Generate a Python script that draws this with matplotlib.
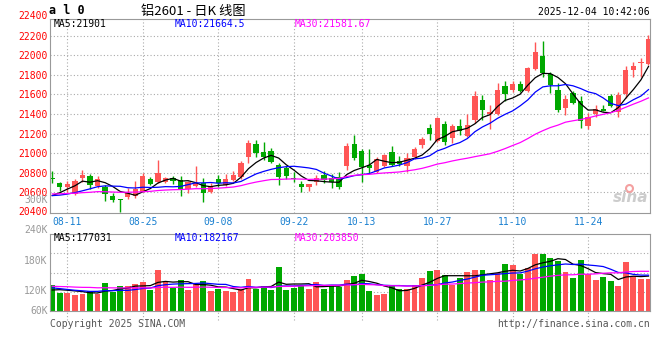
import matplotlib
matplotlib.use('Agg')
import matplotlib.pyplot as plt
import numpy as np
import pandas as pd

# trading days 2025-08-07 .. 2025-12-04 (national day holiday removed)
days = pd.bdate_range('2025-08-07', '2025-12-04')
days = days[(days < '2025-10-01') | (days > '2025-10-08')]
dates = list(days.strftime('%m-%d'))

tick_labels = ['08-11', '08-25', '09-08', '09-22', '10-13', '10-27', '11-10', '11-24']

open_ = [20750, 20700, 20660, 20580, 20750, 20770, 20668, 20660, 20567, 20528,
         20556, 20565, 20607, 20735, 20703, 20710, 20744, 20727, 20640, 20666,
         20693, 20600, 20735, 20675, 20727, 20760, 20958, 21097, 21015, 21023,
         20880, 20846, 20745, 20686, 20652, 20710, 20778, 20744, 20754, 20873,
         21097, 21026, 20880, 20811, 20870, 21013, 20920, 20870, 20965, 21085,
         21255, 21125, 21300, 21160, 21278, 21180, 21340, 21543, 21400, 21404,
         21687, 21643, 21707, 21637, 21860, 21995, 21808, 21646, 21460, 21612,
         21530, 21280, 21400, 21452, 21585, 21425, 21600, 21850, 21918, 21908]
high = [20820, 20710, 20720, 20740, 20830, 20790, 20770, 20680, 20590, 20530,
        20648, 20717, 20795, 20760, 20930, 20760, 20765, 20768, 20720, 20873,
        20750, 20700, 20780, 20790, 20815, 20920, 21135, 21135, 21110, 21050,
        20903, 20870, 20810, 20720, 20690, 20780, 20820, 20790, 20810, 21100,
        21186, 21043, 21043, 20960, 20990, 21074, 20970, 21000, 21060, 21170,
        21300, 21370, 21330, 21300, 21350, 21400, 21635, 21590, 21492, 21720,
        21740, 21740, 21740, 21880, 22137, 22148, 21830, 21715, 21595, 21640,
        21580, 21410, 21490, 21490, 21600, 21620, 21890, 21930, 21970, 22207]
low = [20695, 20610, 20600, 20570, 20710, 20635, 20650, 20510, 20505, 20405,
       20530, 20540, 20600, 20680, 20700, 20700, 20690, 20566, 20590, 20660,
       20505, 20590, 20655, 20670, 20720, 20740, 20900, 20965, 20930, 20900,
       20676, 20740, 20710, 20600, 20610, 20680, 20700, 20650, 20640, 20830,
       20930, 20710, 20800, 20800, 20860, 20870, 20870, 20810, 20940, 21050,
       21130, 21110, 21085, 21100, 21190, 21170, 21305, 21340, 21247, 21390,
       21535, 21630, 21620, 21630, 21850, 21780, 21615, 21424, 21390, 21500,
       21255, 21250, 21370, 21430, 21470, 21370, 21560, 21780, 21780, 21900]
close = [20735, 20660, 20685, 20718, 20778, 20680, 20737, 20585, 20525, 20522,
         20590, 20632, 20765, 20690, 20800, 20744, 20720, 20625, 20710, 20700,
         20590, 20668, 20693, 20737, 20778, 20897, 21108, 21005, 20965, 20915,
         20760, 20768, 20737, 20659, 20686, 20744, 20727, 20710, 20652, 21074,
         20956, 20863, 20853, 20938, 20982, 20880, 20887, 20955, 21040, 21145,
         21196, 21357, 21118, 21278, 21230, 21292, 21585, 21441, 21420, 21646,
         21605, 21707, 21637, 21873, 22035, 21822, 21697, 21441, 21554, 21510,
         21330, 21366, 21452, 21435, 21482, 21595, 21850, 21890, 21928, 22166]
# volume in K
vol = [130, 115, 115, 111, 113, 118, 113, 134, 117, 128,
       128, 132, 136, 120, 160, 138, 125, 140, 120, 132,
       138, 118, 123, 118, 117, 123, 142, 122, 128, 120,
       167, 120, 125, 128, 123, 136, 122, 130, 127, 140,
       148, 152, 118, 110, 112, 130, 122, 122, 130, 145,
       158, 160, 150, 130, 145, 157, 160, 160, 140, 155,
       172, 170, 153, 165, 192, 192, 185, 179, 157, 145,
       180, 152, 140, 147, 138, 128, 177, 148, 143, 143]

# sessions before the window (estimated from where the MA lines start)
prev_close = [20620, 20580, 20650, 20600, 20560, 20540, 20610, 20630, 20590, 20570,
              20600, 20640, 20580, 20550, 20600, 20620, 20570, 20590, 20560, 20600,
              20610, 20580, 20570, 20590, 20480, 20520, 20500, 20550, 20540]
prev_vol = [130, 126, 134, 128, 122, 136, 130, 124, 132, 128,
            126, 135, 130, 127, 125, 133, 129, 131, 126, 128,
            130, 132, 127, 124, 130, 112, 120, 118, 120]

price_ticks = [20600, 20800, 21000, 21200, 21400, 21600, 21800, 22000, 22200]

RED = '#ff5555'
GREEN = '#00a800'
GRID = '#aaaaaa'
MONO = 'DejaVu Sans Mono'

n = len(close)
x = np.arange(n)
o = np.array(open_); c = np.array(close)
colors = [RED if c[i] >= o[i] else GREEN for i in range(n)]

full_c = pd.Series(prev_close + close)
full_v = pd.Series(prev_vol + vol)
k = len(prev_close)
ma_c = {w: full_c.rolling(w).mean().iloc[k:].values for w in (5, 10, 30)}
ma_v = {w: full_v.rolling(w).mean().iloc[k:].values for w in (5, 10, 30)}
ma_col = {5: 'black', 10: '#0000ff', 30: '#ff00ff'}

W, H = 660, 360
fig = plt.figure(figsize=(6.6, 3.6), dpi=100)


def fx(px):
    return px / W


def fy(py):
    return 1 - py / H


tick_pos = [dates.index(t) for t in tick_labels]
xlim = (-0.3, n - 1 + 0.2)

# price panel
ax = fig.add_axes([fx(50), fy(213), fx(600), (213 - 19) / H])
ax.vlines(x, low, high, colors=colors, lw=1)
body = np.maximum(np.abs(c - o), 8)
ax.bar(x, body, bottom=np.minimum(o, c), width=0.7, color=colors, lw=0)
for w in (5, 10, 30):
    ax.plot(x, ma_c[w], color=ma_col[w], lw=0.9)
ax.set_xlim(*xlim)
ax.set_ylim(20390, 22370)
ax.set_yticks(price_ticks)
ax.set_yticklabels([str(v) for v in price_ticks], family=MONO, fontsize=7, color='#ff0000')
ax.set_xticks(tick_pos)
ax.set_xticklabels(tick_labels, family=MONO, fontsize=7, color='#1a80d0')
ax.tick_params(length=0, pad=2)
ax.tick_params(axis='x', pad=3)
ax.grid(True, linestyle=(0, (1, 2)), color=GRID, lw=0.8)
ax.set_axisbelow(True)
for s in ax.spines.values():
    s.set_color('#999999')
ytr = ax.get_yaxis_transform()
for v in (22400, 20400):
    ax.text(-2 / 600, v, str(v), transform=ytr, ha='right', va='center',
            family=MONO, fontsize=7, color='#ff0000', clip_on=False)
# sina watermark
ax.text(0.998, 20545, 'sina', transform=ytr, ha='right', va='center', fontsize=11,
        style='italic', weight='bold', color='#cccccc')
ax.plot([0.965], [20650], transform=ytr, marker='o', ms=5, mfc='none', mec='#f4a0a0', mew=1.5)

# volume panel
av = fig.add_axes([fx(50), fy(311), fx(600), (311 - 234) / H])
av.bar(x, vol, width=0.78, color=colors, lw=0)
for w in (5, 10, 30):
    av.plot(x, ma_v[w], color=ma_col[w], lw=0.9)
av.set_xlim(*xlim)
av.set_ylim(78, 232)
av.set_yticks([120, 180])
av.set_yticklabels(['120K', '180K'], family=MONO, fontsize=7, color='#999999')
av.set_yticks([116.5, 155, 193.5], minor=True)
av.tick_params(which='minor', length=0)
av.set_xticks(tick_pos)
av.set_xticklabels([])
av.tick_params(length=0, pad=2)
av.grid(True, axis='x', linestyle=(0, (1, 2)), color=GRID, lw=0.8)
av.grid(True, which='minor', axis='y', linestyle=(0, (1, 2)), color=GRID, lw=0.8)
av.set_axisbelow(True)
for s in av.spines.values():
    s.set_color('#999999')
xtr = av.get_xaxis_transform()
for p in tick_pos:
    av.plot([p, p], [-0.12, 0], transform=xtr, clip_on=False,
            color=GRID, lw=0.8, linestyle=(0, (1, 2)))
vtr = av.get_yaxis_transform()
for v, lab in [(301, '300K'), (240, '240K'), (78, '60K')]:
    av.text(-2 / 600, v, lab, transform=vtr, ha='right', va='center',
            family=MONO, fontsize=7, color='#999999', clip_on=False)

# header texts
fig.text(fx(49), fy(11), 'a l 0', family=MONO, fontsize=8.5, weight='bold', va='center')
fig.text(fx(141), fy(11), '铝2601 - 日K 线图', family=['Noto Sans CJK SC', 'DejaVu Sans'],
         fontsize=9.5, va='center')
fig.text(fx(650), fy(12), '2025-12-04 10:42:06', family=MONO, fontsize=7, ha='right', va='center')

fig.text(fx(54), fy(24), 'MA5:21901', family=MONO, fontsize=7, color='black', va='center')
fig.text(fx(175), fy(24), 'MA10:21664.5', family=MONO, fontsize=7, color='#0000ff', va='center')
fig.text(fx(295), fy(24), 'MA30:21581.67', family=MONO, fontsize=7, color='#ff00ff', va='center')

fig.text(fx(54), fy(238), 'MA5:177031', family=MONO, fontsize=7, color='black', va='center')
fig.text(fx(175), fy(238), 'MA10:182167', family=MONO, fontsize=7, color='#0000ff', va='center')
fig.text(fx(295), fy(238), 'MA30:203850', family=MONO, fontsize=7, color='#ff00ff', va='center')

fig.text(fx(50), fy(324), 'Copyright 2025 SINA.COM', family=MONO, fontsize=7, color='#555555', va='center')
fig.text(fx(650), fy(324), 'http://finance.sina.com.cn', family=MONO, fontsize=7,
         color='#555555', ha='right', va='center')

fig.savefig('out.png', dpi=100)
